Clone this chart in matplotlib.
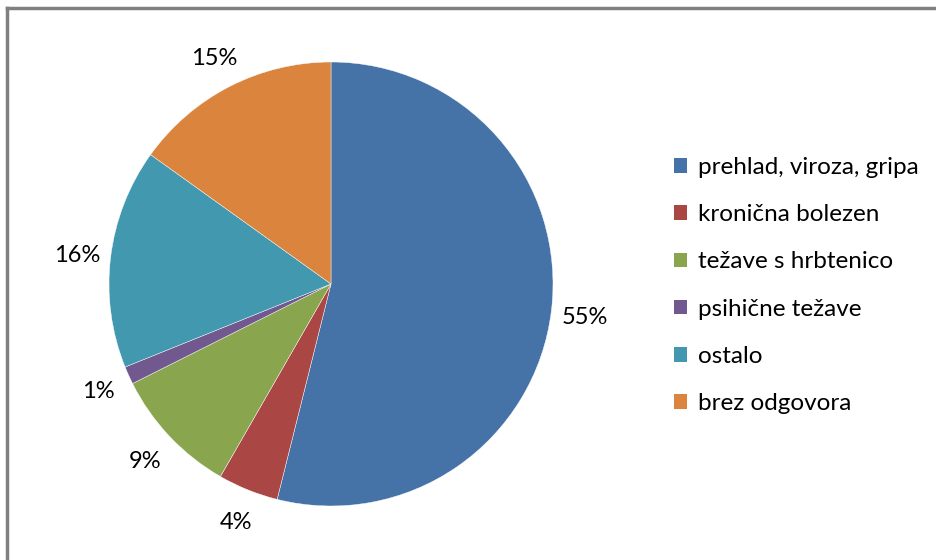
import matplotlib
matplotlib.use('Agg')
import matplotlib.pyplot as plt
from matplotlib.patches import Patch
from matplotlib.lines import Line2D

categories = ['prehlad, viroza, gripa', 'kronična bolezen', 'težave s hrbtenico',
              'psihične težave', 'ostalo', 'brez odgovora']
shares = [53.9, 4.4, 9.3, 1.3, 16.0, 15.1]
pct_labels = ['55%', '4%', '9%', '1%', '16%', '15%']
colors = ['#4572A7', '#AA4643', '#89A54E', '#71588F', '#4198AF', '#DB843D']

plt.rcParams['font.family'] = ['Lato', 'DejaVu Sans']

W, H = 937, 560
fig = plt.figure(figsize=(W / 100, H / 100), dpi=100)

# pie area: centre (331, 284) px, radius 222 px
cx, cy, r = 331, 284, 222
ax = fig.add_axes([(cx - r) / W, (H - cy - r) / H, 2 * r / W, 2 * r / H])
wedges, texts = ax.pie(shares, colors=colors, startangle=90, counterclock=False,
                       labels=pct_labels, labeldistance=1.15,
                       wedgeprops=dict(edgecolor='white', linewidth=0.3),
                       textprops=dict(fontsize=17, color='black'))
for t in texts:
    t.set_horizontalalignment('center')
    t.set_verticalalignment('center_baseline')
ax.set_xlim(-1, 1)
ax.set_ylim(-1, 1)
ax.set_aspect('equal')
ax.axis('off')

handles = [Patch(facecolor=c, edgecolor='none') for c in colors]
fig.legend(handles, categories, loc='upper left', bbox_to_anchor=(674 / W, 1 - 157 / H),
           frameon=False, fontsize=17.5, handlelength=0.55, handleheight=0.55,
           handletextpad=0.42, labelspacing=1.08, borderaxespad=0, borderpad=0)

# chart border (left and top visible)
fig.add_artist(Line2D([7.5 / W, 7.5 / W], [0, 1 - 8 / H], color='#808080', lw=2.5,
                      transform=fig.transFigure))
fig.add_artist(Line2D([7.5 / W, 1], [1 - 8 / H, 1 - 8 / H], color='#808080', lw=2.5,
                      transform=fig.transFigure))

fig.savefig('out.png', dpi=100)
